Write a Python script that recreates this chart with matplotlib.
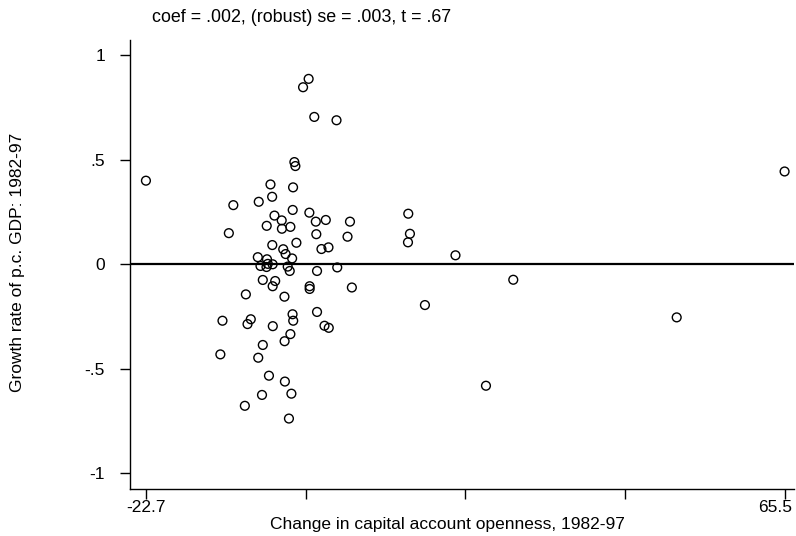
import matplotlib
matplotlib.use("Agg")
import matplotlib.pyplot as plt
import matplotlib.transforms as mtransforms

plt.rcParams['font.family'] = ['Liberation Sans', 'DejaVu Sans']

# Change in capital account openness, 1982-97 (residualised)
x_open = [-22.7, 65.5, -0.23, -1.00, 0.55, 3.62, -2.20, -2.06, -5.50, -2.38,
          -5.27, -10.63, -7.12, -2.43, -0.13, -4.95, -3.95, -6.02, -3.92, -2.75,
          0.76, 2.14, 5.48, -11.25, 0.83, 5.14, -5.25, -1.92, 1.54, 2.51,
          -7.25, -3.74, -3.41, -2.51, -5.98, -6.88, -5.87, -5.20, -6.05, -3.12,
          -2.84, 0.93, 3.72, -6.56, -4.85, -5.20, -0.09, -0.09, 5.74, -8.90,
          -3.57, 0.93, -2.45, -2.36, -8.22, -8.67, -12.13, -5.18, 1.96, 2.55,
          -2.75, -3.55, -6.56, -12.42, -7.19, -5.71, -3.51, -6.67, -2.61, -9.04,
          -2.95, 13.53, 13.76, 13.49, 20.05, 28.03, 15.83, 50.60, 24.26]
# Growth rate of p.c. GDP: 1982-97 (residualised)
y_growth = [0.400, 0.444, 0.887, 0.847, 0.705, 0.689, 0.489, 0.470, 0.382, 0.368,
            0.323, 0.283, 0.299, 0.260, 0.247, 0.233, 0.210, 0.184, 0.170, 0.179,
            0.204, 0.212, 0.204, 0.149, 0.144, 0.132, 0.092, 0.103, 0.073, 0.081,
            0.034, 0.072, 0.049, 0.028, 0.024, -0.008, 0.002, 0.000, -0.013, -0.011,
            -0.032, -0.032, -0.015, -0.075, -0.080, -0.105, -0.105, -0.118, -0.111, -0.144,
            -0.155, -0.228, -0.239, -0.270, -0.263, -0.286, -0.270, -0.296, -0.294, -0.304,
            -0.334, -0.368, -0.386, -0.431, -0.447, -0.533, -0.561, -0.625, -0.619, -0.677,
            -0.738, 0.242, 0.146, 0.105, 0.043, -0.074, -0.195, -0.254, -0.581]

x_ticks = [-22.7, -0.65, 21.4, 43.45, 65.5]
x_tick_labels = ['-22.7', '', '', '', '65.5']
y_ticks = [-1, -0.5, 0, 0.5, 1]
y_tick_labels = ['-1', '-.5', '0', '.5', '1']

title = "coef = .002, (robust) se = .003, t = .67"
xlabel = "Change in capital account openness, 1982-97"
ylabel = "Growth rate of p.c. GDP: 1982-97"

W, H = 796, 536
fig = plt.figure(figsize=(W / 100, H / 100), dpi=100)
left, right, top, bottom = 130, 794, 40, 489
ax = fig.add_axes([left / W, 1 - bottom / H, (right - left) / W, (bottom - top) / H])

ax.scatter(x_open, y_growth, s=40, facecolors='none', edgecolors='black',
           linewidths=1.0, zorder=3)
ax.axhline(0, color='black', lw=1.6, zorder=2)

ax.set_xlim(-24.9, 66.8)
ax.set_ylim(-1.075, 1.073)

for s in ['top', 'right']:
    ax.spines[s].set_visible(False)
for s in ['left', 'bottom']:
    ax.spines[s].set_linewidth(1.0)
    ax.spines[s].set_color('black')

ax.set_xticks(x_ticks)
ax.set_xticklabels(x_tick_labels)
ax.set_yticks(y_ticks)
ax.set_yticklabels(y_tick_labels)
ax.tick_params(axis='y', direction='out', length=7, width=1, pad=11, labelsize=12.5)
ax.tick_params(axis='x', direction='out', length=7, width=1, pad=1, labelsize=12.5)

# shift the last x tick label slightly left so it stays inside the figure
last = ax.get_xticklabels()[-1]
last.set_transform(last.get_transform() +
                   mtransforms.ScaledTranslation(-9 / 100, 0, fig.dpi_scale_trans))

fig.text(152 / W, 1 - 17 / H, title, fontsize=12.9, ha='left', va='center')
fig.text(447 / W, 1 - 524 / H, xlabel, fontsize=12.5, ha='center', va='center')
fig.text(18 / W, 1 - 262 / H, ylabel, fontsize=12.5, ha='center', va='center',
         rotation=90)

fig.savefig('out.png', dpi=100)
